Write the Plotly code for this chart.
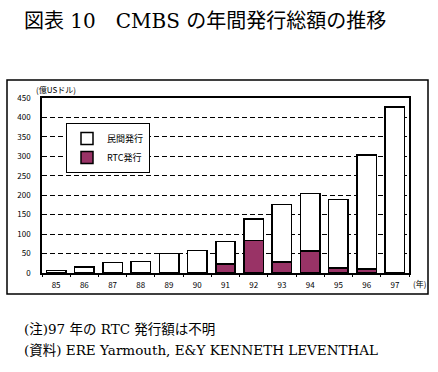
import plotly.graph_objects as go

years = ["85", "86", "87", "88", "89", "90", "91", "92", "93", "94", "95", "96", "97"]
rtc = [0, 0, 0, 0, 0, 0, 23, 83, 28, 57, 13, 10, None]
private = [6, 16, 27, 29, 50, 58, 58, 56, 148, 147, 176, 294, 427]
y_ticks = [0, 50, 100, 150, 200, 250, 300, 350, 400, 450]

W, H = 438, 372
L, R, T, B = 42, 409, 98, 273
pw, ph = R - L, B - T


def px(x):
    return (x - L) / pw


def py(y):
    return (B - y) / ph


FONT = "Noto Sans CJK JP"
SERIF = "DejaVu Serif, Noto Sans CJK JP"

fig = go.Figure()
fig.add_trace(go.Bar(
    x=years, y=rtc, name="RTC発行",
    marker=dict(color="#993366", line=dict(color="black", width=1.5)),
))
fig.add_trace(go.Bar(
    x=years, y=private, name="民間発行",
    marker=dict(color="white", line=dict(color="black", width=1.5)),
))

fig.update_layout(
    width=W, height=H,
    margin=dict(l=L, r=W - R, t=T, b=H - B),
    paper_bgcolor="white", plot_bgcolor="white",
    barmode="stack", bargap=0.31,
    font=dict(family=FONT, color="black", size=8),
    showlegend=True,
    legend=dict(
        x=px(66), y=py(123), xanchor="left", yanchor="top",
        bgcolor="white", bordercolor="black", borderwidth=1,
        font=dict(size=9), itemwidth=30, traceorder="reversed",
    ),
)
fig.update_xaxes(
    type="category", showline=True, linecolor="black", linewidth=1.5, mirror=True,
    ticks="outside", tickson="boundaries", ticklen=2, tickcolor="black",
    showgrid=False, tickfont=dict(size=8), ticklabelstandoff=4,
)
fig.update_yaxes(
    range=[0, 450], tickvals=y_ticks, showline=True, linecolor="black",
    linewidth=1.5, mirror=True, ticks="", showgrid=True, gridcolor="black",
    gridwidth=1, griddash="5px,3px", zeroline=False, tickfont=dict(size=8),
    ticklabelstandoff=8,
)

# outer chart frame
fig.add_shape(type="rect", xref="paper", yref="paper",
              x0=px(7), x1=px(428), y0=py(294), y1=py(80),
              line=dict(color="black", width=1.5), fillcolor="rgba(0,0,0,0)", layer="below")

fig.add_annotation(text="(億USドル)", xref="paper", yref="paper", x=px(56), y=py(89),
                   showarrow=False, font=dict(size=8), xanchor="center", yanchor="middle")
fig.add_annotation(text="(年)", xref="paper", yref="paper", x=px(419), y=py(283),
                   showarrow=False, font=dict(size=8), xanchor="center", yanchor="middle")
fig.add_annotation(text="図表 10　CMBS の年間発行総額の推移", xref="paper", yref="paper",
                   x=px(22), y=py(21), showarrow=False, font=dict(size=20, family=SERIF),
                   xanchor="left", yanchor="middle")
fig.add_annotation(text="(注)97 年の RTC 発行額は不明", xref="paper", yref="paper",
                   x=px(22), y=py(329), showarrow=False, font=dict(size=13.5, family=SERIF),
                   xanchor="left", yanchor="middle")
fig.add_annotation(text="(資料) ERE Yarmouth, E&Y KENNETH LEVENTHAL", xref="paper", yref="paper",
                   x=px(22), y=py(350), showarrow=False, font=dict(size=13.5, family=SERIF),
                   xanchor="left", yanchor="middle")

fig.write_html("out.html", config={"displayModeBar": False},
               post_script="document.body.style.margin='0';")
